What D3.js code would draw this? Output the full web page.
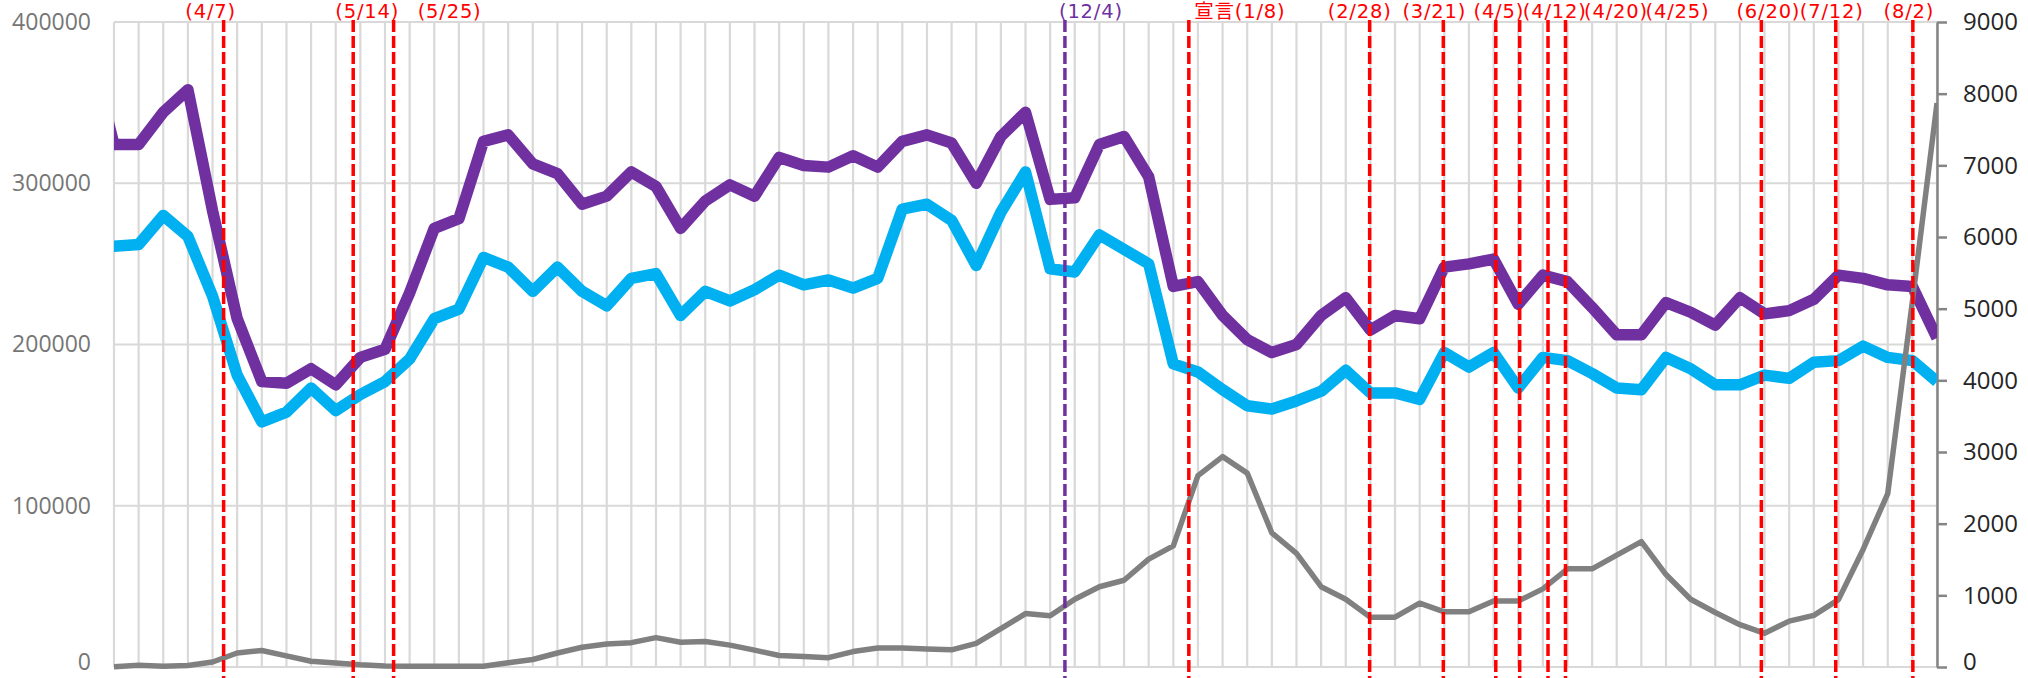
<!DOCTYPE html>
<html>
<head>
<meta charset="utf-8">
<script src="https://cdn.jsdelivr.net/npm/d3@7"></script>
<style>
  body { margin: 0; background: #fff; }
</style>
</head>
<body>
<div id="chart"></div>
<script>
// Weekly points. Week -1 sits just left of the plot edge and is clipped away
const weeks = d3.range(-1, 75);

const purpleValues = [385000,
  324000, 324000, 344000, 358000, 283000, 216000, 177000, 176000, 185000, 175000,
  192000, 197000, 232000, 272000, 278000, 326000, 330000, 312000, 306000, 287000,
  292000, 307000, 298000, 272000, 289000, 299000, 292000, 316000, 311000, 310000,
  317000, 310000, 326000, 330000, 325000, 300000, 329000, 344000, 290000, 291000,
  324000, 329000, 304000, 236000, 239000, 218000, 203000, 195000, 200000, 218000,
  229000, 209000, 218000, 216000, 248000, 250000, 253000, 225000, 243000, 239000,
  223000, 206000, 206000, 226000, 220000, 212000, 229000, 219000, 221000, 228000,
  243000, 241000, 237000, 236000, 204000];

const blueValues = [262000,
  261000, 262000, 280000, 267000, 230000, 181000, 152000, 158000, 173000, 159000,
  169000, 177000, 191000, 216000, 222000, 254000, 248000, 233000, 248000, 233000,
  224000, 241000, 244000, 218000, 233000, 227000, 234000, 243000, 237000, 240000,
  235000, 241000, 284000, 287000, 277000, 249000, 282000, 307000, 247000, 245000,
  268000, 259000, 250000, 188000, 183000, 172000, 162000, 160000, 165000, 171000,
  184000, 170000, 170000, 166000, 195000, 186000, 195000, 173000, 192000, 190000,
  182000, 173000, 172000, 192000, 185000, 175000, 175000, 181000, 179000, 189000,
  190000, 199000, 192000, 190000, 177000];

// right axis series
const grayValues = [0,
  5, 25, 10, 20, 70, 195, 230, 155, 80, 55,
  30, 15, 10, 10, 10, 10, 60, 105, 195, 275,
  320, 340, 410, 345, 355, 305, 235, 160, 145, 130,
  215, 265, 265, 250, 240, 330, 535, 745, 715, 945,
  1120, 1210, 1505, 1690, 2670, 2935, 2705, 1870, 1585, 1120,
  945, 695, 695, 890, 770, 770, 920, 920, 1090, 1370,
  1370, 1560, 1750, 1290, 945, 760, 590, 470, 640, 720,
  940, 1640, 2420, 5100, 7870];

const leftTicks = [0, 100000, 200000, 300000, 400000];
const rightTicks = [0, 1000, 2000, 3000, 4000, 5000, 6000, 7000, 8000, 9000];

// Marker lines (position in weeks) and their captions
const eventWeeks = [4.45, 9.71, 11.35, 38.6, 43.63, 50.97, 53.96, 56.09, 57.06, 58.21, 58.92, 66.87, 69.89, 73.02];
const eventLabels = ['(4/7)', '(5/14)', '(5/25)', '(12/4)', '宣言(1/8)', '(2/28)', '(3/21)',
  '(4/5)', '(4/12)', '(4/20)', '(4/25)', '(6/20)', '(7/12)', '(8/2)'];
const eventGroup = ['red', 'red', 'red', 'purple', 'red', 'red', 'red',
  'red', 'red', 'red', 'red', 'red', 'red', 'red'];

// Layout
const width = 2028, height = 678;
const plot = { left: 114, right: 1937, top: 22, bottom: 667 };
// caption centre offset from its line, captions are spread to avoid overlap
const labelDx = [-13, 14, 56, 26, 51, -10, -9, 3, 35, 68, 112, 7, -4, -4];
const eventColor = { red: '#FF0000', purple: '#7030A0' };

const svg = d3.select('#chart')
  .append('svg')
  .attr('width', width)
  .attr('height', height);

const xScale = d3.scaleLinear().domain([0, 74]).range([plot.left, plot.right]);
const yLeft = d3.scaleLinear().domain([0, 400000]).range([plot.bottom, plot.top]);
const yRight = d3.scaleLinear().domain([0, 9000]).range([plot.bottom, plot.top]);

// Gridlines
svg.append('g')
  .selectAll('line')
  .data(d3.range(0, 75))
  .join('line')
    .attr('x1', d => xScale(d))
    .attr('x2', d => xScale(d))
    .attr('y1', plot.top)
    .attr('y2', plot.bottom)
    .attr('stroke', '#D9D9D9')
    .attr('stroke-width', 2.2);

svg.append('g')
  .selectAll('line')
  .data(leftTicks)
  .join('line')
    .attr('x1', plot.left)
    .attr('x2', plot.right)
    .attr('y1', d => yLeft(d))
    .attr('y2', d => yLeft(d))
    .attr('stroke', '#D9D9D9')
    .attr('stroke-width', 2.2);

// Left axis (labels only)
const leftAxis = svg.append('g')
  .attr('transform', 'translate(91, 0)')
  .call(d3.axisLeft(yLeft).tickValues(leftTicks).tickSize(0).tickPadding(0).tickFormat(d3.format('d')));
leftAxis.select('.domain').remove();
leftAxis.selectAll('text')
  .attr('font-family', 'Open Sans, sans-serif')
  .attr('font-size', 23)
  .attr('fill', '#767676');

// Right axis
const rightAxis = svg.append('g')
  .attr('transform', `translate(${plot.right}, 0)`)
  .call(d3.axisRight(yRight).tickValues(rightTicks).tickSize(10).tickSizeOuter(0).tickPadding(16).tickFormat(d3.format('d')));
rightAxis.select('.domain').attr('stroke', '#858585').attr('stroke-width', 2.5);
rightAxis.selectAll('.tick line').attr('stroke', '#858585').attr('stroke-width', 2.5);
rightAxis.selectAll('text')
  .attr('font-family', 'Open Sans, sans-serif')
  .attr('font-size', 24)
  .attr('fill', '#262626');

// keep the bottom "0" labels inside the picture
[leftAxis, rightAxis].forEach(ax => {
  ax.selectAll('.tick text').filter(d => d === 0).attr('dy', '0.12em');
});

// Series
svg.append('clipPath')
  .attr('id', 'plot-clip')
  .append('rect')
    .attr('x', plot.left)
    .attr('y', 0)
    .attr('width', plot.right - plot.left)
    .attr('height', height);

const series = [
  { values: purpleValues, scale: yLeft, color: '#7030A0', w: 11.5 },
  { values: blueValues, scale: yLeft, color: '#00B0F0', w: 11.5 },
  { values: grayValues, scale: yRight, color: '#808080', w: 5.5 }
];

const lineGroup = svg.append('g').attr('clip-path', 'url(#plot-clip)');
series.forEach(s => {
  lineGroup.append('path')
    .datum(weeks)
    .attr('fill', 'none')
    .attr('stroke', s.color)
    .attr('stroke-width', s.w)
    .attr('stroke-linejoin', 'round')
    .attr('d', d3.line()
      .x(d => xScale(d))
      .y((d, i) => s.scale(s.values[i]))
    );
});

// Marker lines and captions
svg.append('g')
  .selectAll('line')
  .data(eventWeeks)
  .join('line')
    .attr('x1', d => xScale(d))
    .attr('x2', d => xScale(d))
    .attr('y1', 20)
    .attr('y2', 678)
    .attr('stroke', (d, i) => eventColor[eventGroup[i]])
    .attr('stroke-width', 3.5)
    .attr('stroke-dasharray', '12 4');

svg.append('g')
  .selectAll('text')
  .data(eventLabels)
  .join('text')
    .text(d => d)
    .attr('x', (d, i) => xScale(eventWeeks[i]) + labelDx[i])
    .attr('y', 18.3)
    .attr('text-anchor', 'middle')
    .attr('font-family', 'DejaVu Sans, Noto Sans CJK JP, sans-serif')
    .attr('font-size', 19.5)
    .attr('letter-spacing', 0.8)
    .attr('fill', (d, i) => eventColor[eventGroup[i]]);
</script>
</body>
</html>
